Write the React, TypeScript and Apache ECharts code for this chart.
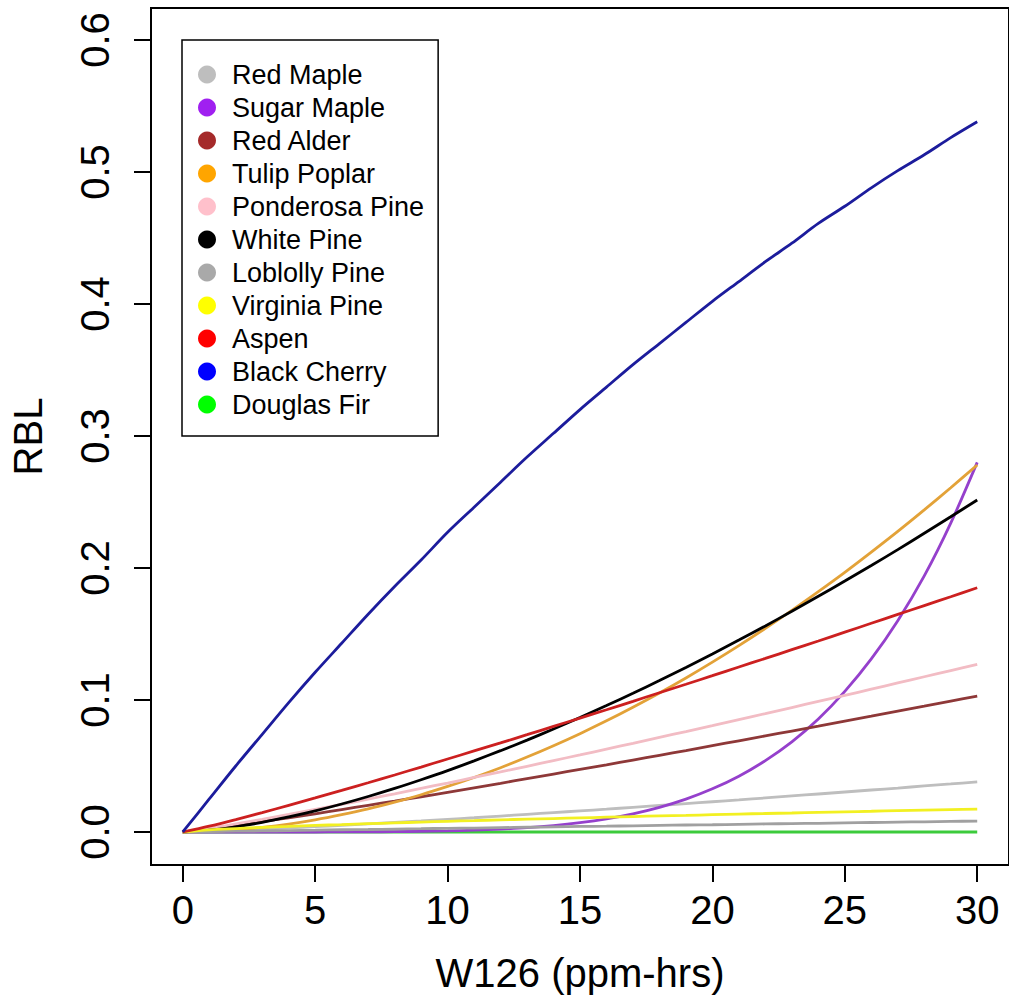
import React, { useEffect, useRef } from "react";
import * as echarts from "echarts";

const xValues = [0, 1, 2, 3, 4, 5, 6, 7, 8, 9, 10, 11, 12, 13, 14, 15, 16, 17, 18, 19, 20, 21, 22, 23, 24, 25, 26, 27, 28, 29, 30];

const redMaple = [0, 0.0005, 0.0013, 0.0021, 0.0031, 0.004, 0.0051, 0.0062, 0.0073, 0.0084, 0.0096, 0.0108, 0.0121, 0.0134, 0.0147, 0.016, 0.0173, 0.0187, 0.0201, 0.0215, 0.0229, 0.0243, 0.0258, 0.0273, 0.0288, 0.0303, 0.0318, 0.0333, 0.0349, 0.0364, 0.038];
const sugarMaple = [0, 0, 0, 0, 0, 0, 0.0001, 0.0001, 0.0003, 0.0005, 0.0008, 0.0014, 0.0022, 0.0033, 0.0049, 0.0071, 0.01, 0.0138, 0.0187, 0.0249, 0.0327, 0.0423, 0.0541, 0.0683, 0.0856, 0.1065, 0.1311, 0.1601, 0.194, 0.234, 0.28];
const redAlder = [0, 0.0023, 0.005, 0.0078, 0.0108, 0.0138, 0.017, 0.0202, 0.0234, 0.0267, 0.0301, 0.0335, 0.0369, 0.0404, 0.0439, 0.0474, 0.0509, 0.0545, 0.0581, 0.0617, 0.0654, 0.0691, 0.0728, 0.0765, 0.0802, 0.084, 0.0877, 0.0915, 0.0953, 0.0992, 0.103];
const tulipPoplar = [0, 0.0004, 0.0016, 0.0035, 0.006, 0.0092, 0.0131, 0.0175, 0.0226, 0.0282, 0.0345, 0.0413, 0.0487, 0.0568, 0.0654, 0.0745, 0.0842, 0.0945, 0.1053, 0.1167, 0.1287, 0.1412, 0.1543, 0.1679, 0.1821, 0.1967, 0.212, 0.2277, 0.244, 0.2608, 0.278];
const ponderosaPine = [0, 0.0028, 0.0061, 0.0096, 0.0133, 0.0171, 0.0209, 0.0249, 0.0289, 0.033, 0.0371, 0.0413, 0.0455, 0.0498, 0.0541, 0.0584, 0.0628, 0.0672, 0.0717, 0.0761, 0.0806, 0.0852, 0.0897, 0.0943, 0.0989, 0.1035, 0.1082, 0.1129, 0.1176, 0.1223, 0.127];
const whitePine = [0, 0.0014, 0.0039, 0.0073, 0.0114, 0.016, 0.0212, 0.0269, 0.033, 0.0396, 0.0465, 0.0539, 0.0616, 0.0696, 0.078, 0.0867, 0.0958, 0.1051, 0.1148, 0.1247, 0.1349, 0.1454, 0.1561, 0.1672, 0.1786, 0.1901, 0.2019, 0.2139, 0.2263, 0.2388, 0.2515];
const loblollyPine = [0, 0.0003, 0.0006, 0.0008, 0.0011, 0.0014, 0.0017, 0.0019, 0.0022, 0.0025, 0.0028, 0.003, 0.0033, 0.0036, 0.0039, 0.0042, 0.0044, 0.0047, 0.005, 0.0053, 0.0055, 0.0058, 0.0061, 0.0064, 0.0066, 0.0069, 0.0072, 0.0075, 0.0077, 0.008, 0.0083];
const virginiaPine = [0, 0.0016, 0.0026, 0.0035, 0.0042, 0.005, 0.0056, 0.0063, 0.0069, 0.0075, 0.0081, 0.0086, 0.0092, 0.0097, 0.0102, 0.0107, 0.0112, 0.0117, 0.0122, 0.0126, 0.0131, 0.0136, 0.014, 0.0144, 0.0149, 0.0153, 0.0157, 0.0162, 0.0166, 0.017, 0.0174];
const aspen = [0, 0.0044, 0.0094, 0.0147, 0.0202, 0.0258, 0.0315, 0.0373, 0.0432, 0.0492, 0.0553, 0.0614, 0.0675, 0.0737, 0.08, 0.0863, 0.0926, 0.099, 0.1055, 0.1119, 0.1184, 0.125, 0.1315, 0.1381, 0.1447, 0.1514, 0.1581, 0.1648, 0.1715, 0.1782, 0.185];
const blackCherry = [0, 0.025, 0.05, 0.074, 0.098, 0.121, 0.143, 0.165, 0.186, 0.206, 0.227, 0.246, 0.265, 0.284, 0.302, 0.32, 0.337, 0.354, 0.37, 0.386, 0.402, 0.417, 0.432, 0.446, 0.461, 0.474, 0.488, 0.501, 0.513, 0.526, 0.538];
const douglasFir = [0, 0, 0, 0, 0, 0, 0, 0, 0, 0, 0, 0, 0, 0, 0, 0, 0, 0, 0, 0, 0, 0, 0, 0, 0, 0, 0, 0, 0, 0, 0];

const speciesNames = ["Red Maple", "Sugar Maple", "Red Alder", "Tulip Poplar", "Ponderosa Pine", "White Pine", "Loblolly Pine", "Virginia Pine", "Aspen", "Black Cherry", "Douglas Fir"];
const speciesValues = [redMaple, sugarMaple, redAlder, tulipPoplar, ponderosaPine, whitePine, loblollyPine, virginiaPine, aspen, blackCherry, douglasFir];
const legendColors = ["#BEBEBE", "#A020F0", "#A52A2A", "#FFA500", "#FFC0CB", "#000000", "#A9A9A9", "#FFFF00", "#FF0000", "#0000FF", "#00FF00"];
const lineColors = ["#BEBEBE", "#9540CC", "#8E3838", "#E3A238", "#F2BCC4", "#000000", "#A0A0A0", "#F2F022", "#CC2020", "#1C1C9C", "#3CCB3C"];

const xTicks = [0, 5, 10, 15, 20, 25, 30];
const yTicks = [0, 0.1, 0.2, 0.3, 0.4, 0.5, 0.6];

const FONT = "'Liberation Sans', Arial, Helvetica, sans-serif";

export default function App() {
  const ref = useRef<HTMLDivElement>(null);
  useEffect(() => {
    if (!ref.current) return;
    const chart = echarts.init(ref.current, undefined, { renderer: "svg" });
    const order = [10, 0, 1, 2, 3, 4, 5, 6, 7, 8, 9];
    const series = order.map((i) => ({
      name: speciesNames[i],
      type: "line",
      data: xValues.map((x, k) => [x, speciesValues[i][k]]),
      showSymbol: false,
      symbol: "circle",
      smooth: 0.3,
      itemStyle: { color: legendColors[i] },
      lineStyle: { color: lineColors[i], width: 2.8 },
      z: 2,
    }));
    chart.setOption({
      animation: false,
      backgroundColor: "#ffffff",
      textStyle: { fontFamily: FONT },
      grid: {
        left: 150,
        top: 8,
        width: 860,
        height: 857,
        show: true,
        borderColor: "#000",
        borderWidth: 2,
        containLabel: false,
      },
      legend: {
        orient: "vertical",
        left: 182,
        top: 40,
        data: speciesNames,
        icon: "circle",
        itemWidth: 40,
        itemHeight: 18,
        itemGap: 6,
        padding: [21, 14, 18, 16],
        borderColor: "#000",
        borderWidth: 1.5,
        backgroundColor: "#fff",
        selectedMode: false,
        textStyle: { fontSize: 27, fontFamily: FONT, color: "#000", lineHeight: 26 },
      },
      xAxis: {
        type: "value",
        min: -1.2,
        max: 31.2,
        name: "W126 (ppm-hrs)",
        nameLocation: "middle",
        nameGap: 88,
        nameTextStyle: { fontSize: 40, color: "#000", fontFamily: FONT, verticalAlign: "top" },
        axisLine: { show: false, onZero: false },
        splitLine: { show: false },
        axisTick: {
          show: true,
          customValues: xTicks,
          length: 17,
          lineStyle: { color: "#000", width: 2 },
        },
        axisLabel: {
          customValues: xTicks,
          margin: 25,
          fontSize: 40,
          color: "#000",
          fontFamily: FONT,
          formatter: (v: number) => String(Math.round(v)),
        },
      },
      yAxis: {
        type: "value",
        min: -0.025,
        max: 0.6242,
        name: "RBL",
        nameLocation: "middle",
        nameGap: 103,
        nameRotate: 90,
        nameTextStyle: { fontSize: 40, color: "#000", fontFamily: FONT },
        axisLine: { show: false, onZero: false },
        splitLine: { show: false },
        axisTick: {
          show: true,
          customValues: yTicks,
          length: 17,
          lineStyle: { color: "#000", width: 2 },
        },
        axisLabel: {
          customValues: yTicks,
          rotate: 90,
          margin: 36,
          fontSize: 40,
          color: "#000",
          fontFamily: FONT,
          formatter: (v: number) => v.toFixed(1),
        },
      },
      series,
    });
    return () => chart.dispose();
  }, []);
  return (
    <div
      ref={ref}
      style={{ position: "fixed", left: 0, top: 0, width: 1009, height: 1001, background: "#fff" }}
    />
  );
}
